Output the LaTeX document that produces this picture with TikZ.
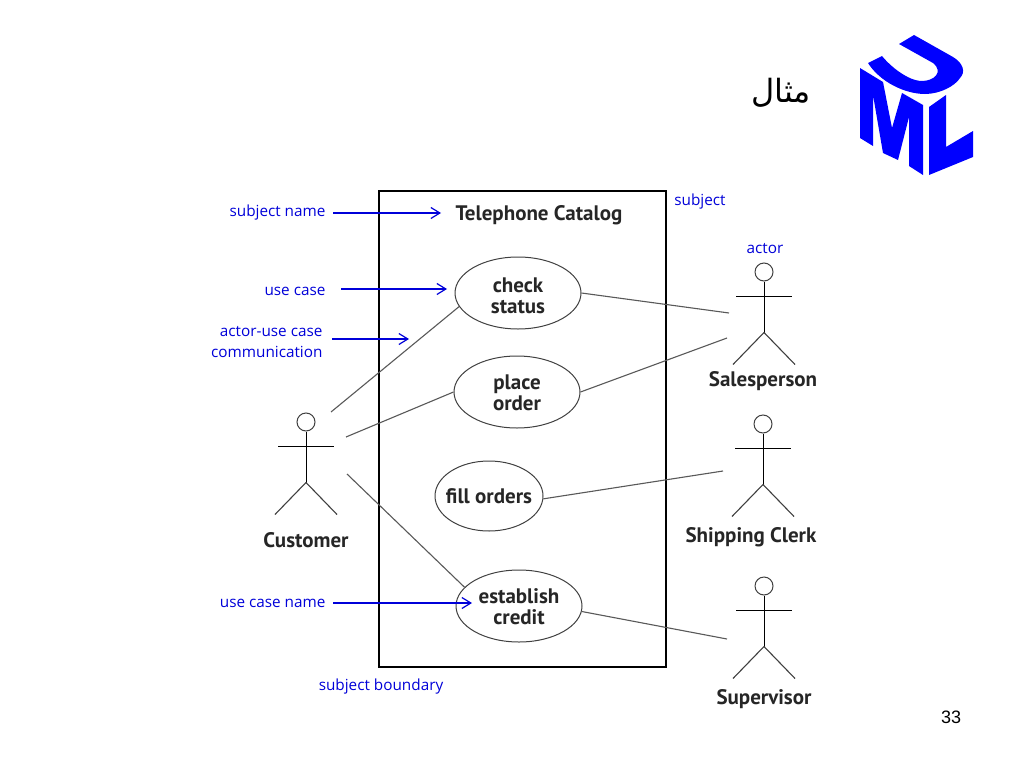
\documentclass[tikz,border=0pt]{standalone}
\usepackage{fontspec}
\setmainfont{Open Sans}
\newfontfamily\namefont{PT Sans}
\newfontfamily\arabicfont[Script=Arabic]{DejaVu Sans}
\newfontfamily\pagefont{Liberation Sans}
\TeXXeTstate=1
\usetikzlibrary{arrows.meta,positioning,shapes.geometric}
\tikzset{
  usecase/.style={draw=black!75, ellipse, inner sep=0pt, line width=1pt, minimum width=126, minimum height=72},
  casetext/.style={align=center, font=\namefont\bfseries\fontsize{21}{21}\selectfont, text=black!85},
  actorname/.style={font=\namefont\bfseries\fontsize{21}{21}\selectfont, text=black!85},
  note/.style={text=blue!85!black, align=right, font=\fontsize{15.3}{21}\selectfont},
  notearrow/.style={blue!85!black, line width=1.2pt, -{Straight Barb[length=9pt,width=11pt]}},
  link/.style={black!65, line width=1.1pt},
}
\begin{document}
\begin{tikzpicture}[x=1pt, y=-1pt]
    \useasboundingbox (0,0) rectangle (1024,768);
    \fill[white] (0,0) rectangle (1024,768);
    % frontera
    \draw[black, line width=1.1pt] (379,191) rectangle (666,667);
    \node[actorname] (catalog) at (539,215) {Telephone Catalog};
    % casos de uso
    \foreach \name/\x/\y/\w/\h/\ty/\label in {check/518/293/126/72/296/{check\\status}, place/517/392/126/72/393/{place\\order}, fill/489/496/108/70/496/{fill orders}, credit/519/606/126/72/607/{establish\\credit}}{
        \node[usecase, minimum width=\w, minimum height=\h] (\name) at (\x,\y) {};
        \node[casetext] (\name text) at (\x,\ty) {\label};
    }
    % actores
    \foreach \name/\x/\y/\label/\lx/\ly in {cust/306/422/Customer/306/540, sales/764/272/Salesperson/763/381, clerk/763/424/Shipping Clerk/751/537, super/764/586/Supervisor/764/699}{
        \node[draw=black!75, circle, minimum size=18, inner sep=0pt, line width=1pt] (\name) at (\x,\y) {};
        \draw[line width=1pt] (\name.south) -- ++(0,51) coordinate (\name hip);
        \draw[line width=1pt] ([shift={(-28,15)}]\name.south) -- ++(56,0);
        \draw[black!75, line width=1.1pt] (\name hip) -- ++(-31,32) (\name hip) -- ++(31,32);
        \node[actorname] (\name name) at (\lx,\ly) {\label};
    }
    % extremos libres
    \coordinate (custa) at (331,412);
    \coordinate (custb) at (346,437);
    \coordinate (custc) at (347,474);
    \coordinate (salesa) at (729,313);
    \coordinate (salesb) at (727,338);
    \coordinate (clerka) at (723,471);
    \coordinate (supera) at (727,639);
    \draw[link] (custa) -- (check.193);
    \draw[link] (custb) -- (place.west);
    \draw[link] (custc) -- (credit.161);
    \draw[link] (check.east) -- (salesa);
    \draw[link] (place.east) -- (salesb);
    \draw[link] (fill.-3) -- (clerka);
    \draw[link] (credit.-5) -- (supera);
    % notas
    \node[note, anchor=east] (subjectname) at (329,213) {subject name};
    \node[note, anchor=east] (usecasenote) at (329,291) {use case};
    \node[note, anchor=east] (commnote) at (326,342) {actor-use case\\communication};
    \node[note, anchor=east] (casename) at (329,603) {use case name};
    \node[note] (subjectnote) at (700,202) {subject};
    \node[note] (actornote) at (765,249) {actor};
    \node[note] (boundary) at (381,687) {subject boundary};
    \coordinate (tipa) at (441,213);
    \coordinate (tipb) at (447,289);
    \coordinate (tipc) at (409,339);
    \coordinate (tipd) at (472,603);
    \draw[notearrow] (subjectname.east) ++(4,0) -- (tipa);
    \draw[notearrow] (usecasenote.east) ++(12,-2) -- (tipb);
    \draw[notearrow] (commnote.east) ++(6,-3) -- (tipc);
    \draw[notearrow] (casename.east) ++(4,0) -- (tipd);
    % titulo y logo
    \node (titulo) at (781,93) {\fontsize{32}{36}\selectfont\arabicfont\beginR مثال\endR};
    \fill[blue] (899,44) -- (914,35) -- (953,57) .. controls (963,63) and (966,72) .. (960,78) .. controls (955,86) and (940,94) .. (925,94) .. controls (905,94) and (880,82) .. (868,63) -- (882,56) .. controls (890,66) and (908,81) .. (922,81) .. controls (934,81) and (944,72) .. (933,63) -- cycle;
    \fill[blue] (860,68) -- (883,82) -- (892,128) -- (902,93) -- (923,105) -- (923,175) -- (909,166) -- (909,117) -- (898,160) -- (883,153) -- (873,95) -- (873,146) -- (860,138) -- cycle;
    \fill[blue] (929,107) -- (946,95) -- (946,147) -- (973,131) -- (973,157) -- (929,175) -- cycle;
    \node (pagenum) at (951,717) {\fontsize{18}{20}\selectfont\pagefont 33};
\end{tikzpicture}
\end{document}
